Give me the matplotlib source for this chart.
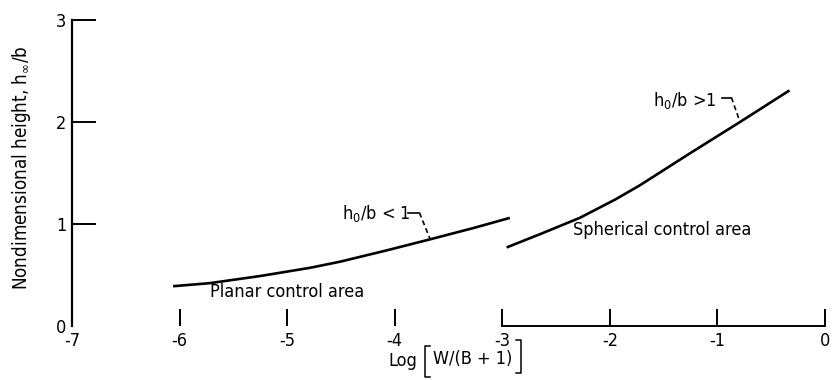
import matplotlib
matplotlib.use("Agg")
import matplotlib.pyplot as plt
from matplotlib.lines import Line2D

plt.rcParams["font.family"] = ["DejaVu Sans"]
plt.rcParams["font.stretch"] = "condensed"
plt.rcParams["mathtext.fontset"] = "dejavusans"

# curves
planar_x = [-6.06, -5.72, -5.25, -4.79, -4.51, -4.08, -3.67, -3.27, -2.93]
planar_y = [0.39, 0.42, 0.49, 0.57, 0.63, 0.74, 0.85, 0.96, 1.06]
spherical_x = [-2.96, -2.65, -2.28, -1.95, -1.72, -1.26, -0.79, -0.33]
spherical_y = [0.77, 0.90, 1.06, 1.24, 1.38, 1.69, 2.00, 2.31]

x_ticks = [-7, -6, -5, -4, -3, -2, -1, 0]
y_ticks = [0, 1, 2, 3]

fs = 13
fig = plt.figure(figsize=(8.32, 3.8), dpi=100)
ax = fig.add_axes([72 / 832, 54 / 380, 753 / 832, 306 / 380])
ax.set_xlim(-7, 0)
ax.set_ylim(0, 3)

lw = 1.9
ax.plot(planar_x, planar_y, color="black", lw=lw, solid_capstyle="butt", solid_joinstyle="round")
ax.plot(spherical_x, spherical_y, color="black", lw=lw, solid_capstyle="butt", solid_joinstyle="round")

for s in ["top", "right", "bottom"]:
    ax.spines[s].set_visible(False)
ax.spines["left"].set_linewidth(1.6)
# bottom axis line only drawn from -3 to 0
ax.plot([-3, 0], [0, 0], color="black", lw=1.4, clip_on=False)

ax.set_xticks(x_ticks)
ax.set_xticklabels([str(v) for v in x_ticks])
ax.set_yticks(y_ticks)
ax.set_yticklabels([str(v) for v in y_ticks])
ax.tick_params(axis="x", direction="in", length=12, width=1.4, pad=4, labelsize=fs)
ax.tick_params(axis="y", direction="in", length=17, width=1.4, pad=4, labelsize=fs)
ax.xaxis.get_major_ticks()[0].tick1line.set_visible(False)
ax.yaxis.get_major_ticks()[0].tick1line.set_visible(False)

# annotations
ax.text(-5.72, 0.33, "Planar control area", fontsize=fs, va="center", ha="left")
ax.text(-2.34, 0.94, "Spherical control area", fontsize=fs, va="center", ha="left")

ax.text(-4.49, 1.10, "h$_0$/b < 1", fontsize=fs, va="center", ha="left")
ax.plot([-3.88, -3.77], [1.11, 1.11], color="black", lw=1.2)
ax.plot([-3.77, -3.67], [1.11, 0.85], color="black", lw=1.2, ls=(0, (3, 2)))

ax.text(-1.60, 2.21, "h$_0$/b >1", fontsize=fs, va="center", ha="left")
ax.plot([-0.96, -0.87], [2.24, 2.24], color="black", lw=1.2)
ax.plot([-0.87, -0.79], [2.24, 2.00], color="black", lw=1.2, ls=(0, (3, 2)))

# x axis label with tall brackets
W, H = 832, 380
fig.text(388 / W, 1 - 361 / H, "Log", fontsize=fs, ha="left", va="center")
fig.text(433 / W, 1 - 359 / H, "W/(B + 1)", fontsize=fs, ha="left", va="center")
for bx, by0, by1, d in [(425, 346, 377, 1), (521, 340, 373, -1)]:
    fig.add_artist(Line2D([(bx + 5 * d) / W, bx / W, bx / W, (bx + 5 * d) / W],
                          [1 - by0 / H, 1 - by0 / H, 1 - by1 / H, 1 - by1 / H],
                          color="black", lw=1.1))

fig.text(22 / W, 1 - 168 / H, r"Nondimensional height, h$_\infty$/b",
         fontsize=13.5, rotation=90, ha="center", va="center")

fig.savefig("out.png", dpi=100)
